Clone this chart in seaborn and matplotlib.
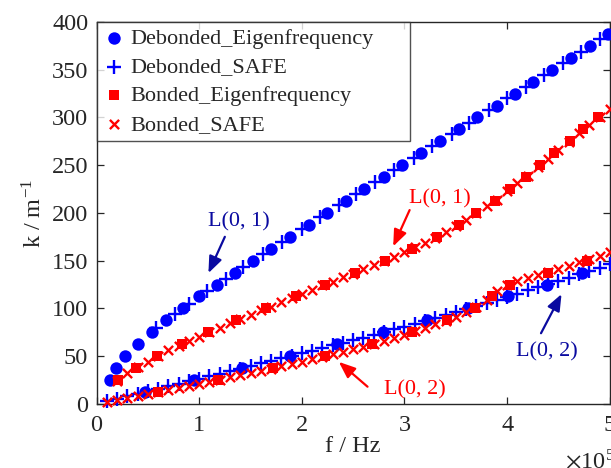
import numpy as np
import pandas as pd
import matplotlib
matplotlib.use("Agg")
import matplotlib.pyplot as plt
from matplotlib.ticker import FuncFormatter, MultipleLocator
import seaborn as sns

# ---- data: frequency in units of 1e5 Hz, wavenumber k in 1/m ----
# Debonded, eigenfrequency analysis, mode L(0,1)
deb_eig_L01_f = [0.13, 0.19, 0.28, 0.40, 0.54, 0.68, 0.84, 1.00, 1.17, 1.35,
                 1.52, 1.70, 1.88, 2.07, 2.25, 2.43, 2.61, 2.80, 2.98, 3.16,
                 3.35, 3.53, 3.71, 3.90, 4.08, 4.25, 4.44, 4.62, 4.81, 4.98]
deb_eig_L01_k = [25.0, 37.5, 50.0, 62.5, 75.0, 87.5, 100.0, 112.5, 125.0, 137.5,
                 150.0, 162.5, 175.0, 187.5, 200.0, 212.5, 225.0, 237.5, 250.0, 262.5,
                 275.0, 287.5, 300.0, 312.5, 325.0, 337.5, 350.0, 362.5, 375.0, 387.5]
# Debonded, eigenfrequency analysis, mode L(0,2)
deb_eig_L02_f = [0.47, 0.95, 1.42, 1.88, 2.345, 2.79, 3.22, 3.62, 4.01, 4.39, 4.73]
deb_eig_L02_k = [12.5, 25.0, 37.5, 50.0, 62.5, 75.0, 87.5, 100.0, 112.5, 125.0, 137.5]

# Debonded, SAFE, mode L(0,1)
deb_safe_L01_f = [0.58, 0.76, 0.90, 1.08, 1.26, 1.43, 1.62, 1.81, 2.00, 2.18,
                  2.36, 2.53, 2.71, 2.90, 3.09, 3.27, 3.46, 3.63, 3.82, 4.00,
                  4.18, 4.36, 4.54, 4.72, 4.90]
deb_safe_L01_k = [79.0, 94.0, 105.0, 118.5, 131.0, 143.0, 157.0, 170.0, 183.0, 195.5,
                  208.0, 219.5, 232.0, 244.5, 257.5, 270.0, 283.0, 294.5, 307.5, 320.0,
                  332.0, 344.5, 357.0, 369.0, 382.0]
# Debonded, SAFE, mode L(0,2)
deb_safe_L02_f = [0.1, 0.2, 0.3, 0.4, 0.5, 0.6, 0.7, 0.8, 0.9, 1.0,
                  1.1, 1.2, 1.3, 1.4, 1.5, 1.6, 1.7, 1.8, 1.9, 2.0,
                  2.1, 2.2, 2.3, 2.4, 2.5, 2.6, 2.7, 2.8, 2.9, 3.0,
                  3.1, 3.2, 3.3, 3.4, 3.5, 3.6, 3.7, 3.8, 3.9, 4.0,
                  4.1, 4.2, 4.3, 4.4, 4.5, 4.6, 4.7, 4.8, 4.9, 5.0]
deb_safe_L02_k = [2.7, 5.3, 8.0, 10.6, 13.3, 16.0, 18.6, 21.2, 23.8, 26.4,
                  29.0, 31.7, 34.3, 37.0, 39.6, 42.3, 45.0, 47.7, 50.4, 53.1,
                  55.8, 58.5, 61.3, 64.0, 66.7, 69.5, 72.3, 75.2, 78.0, 81.0,
                  84.0, 87.0, 90.0, 93.0, 96.2, 99.4, 102.6, 105.8, 109.0, 112.2,
                  115.5, 118.8, 122.0, 125.3, 128.7, 132.2, 135.8, 139.3, 142.8, 146.5]

# Bonded, eigenfrequency analysis, mode L(0,1)
bon_eig_L01_f = [0.21, 0.38, 0.59, 0.83, 1.09, 1.36, 1.65, 1.94, 2.23, 2.52,
                 2.81, 3.07, 3.32, 3.53, 3.70, 3.88, 4.03, 4.18, 4.32, 4.46,
                 4.61, 4.74, 4.89]
bon_eig_L01_k = [25.0, 37.5, 50.0, 62.5, 75.0, 87.5, 100.0, 112.5, 125.0, 137.5,
                 150.0, 162.5, 175.0, 187.5, 200.0, 212.5, 225.0, 237.5, 250.0, 262.5,
                 275.0, 287.5, 300.0]
# Bonded, eigenfrequency analysis, mode L(0,2)
bon_eig_L02_f = [0.60, 1.18, 1.72, 2.23, 2.68, 3.07, 3.41, 3.69, 3.85, 4.03, 4.40, 4.78]
bon_eig_L02_k = [12.5, 25.0, 37.5, 50.0, 62.5, 75.0, 87.5, 100.0, 112.5, 125.0, 137.5, 150.0]

# Bonded, SAFE, mode L(0,1)
bon_safe_L01_f = [0.2, 0.3, 0.4, 0.5, 0.6, 0.7, 0.8, 0.9, 1.0,
                  1.1, 1.2, 1.3, 1.4, 1.5, 1.6, 1.7, 1.8, 1.9, 2.0,
                  2.1, 2.2, 2.3, 2.4, 2.5, 2.6, 2.7, 2.8, 2.9, 3.0,
                  3.1, 3.2, 3.3, 3.4, 3.5, 3.6, 3.7, 3.8, 3.9, 4.0,
                  4.1, 4.2, 4.3, 4.4, 4.5, 4.6, 4.7, 4.8, 4.9, 5.0]
bon_safe_L01_k = [24.0, 32.0, 38.5, 44.0, 50.5, 56.0, 61.0, 66.0, 70.5,
                  75.5, 80.0, 85.0, 89.0, 93.5, 98.0, 102.0, 106.5, 111.0, 115.0,
                  119.5, 124.0, 128.0, 132.5, 136.5, 141.0, 145.0, 149.5, 154.0, 159.0,
                  164.0, 169.0, 174.0, 180.0, 186.0, 192.5, 200.0, 207.0, 214.0, 222.5,
                  231.0, 239.0, 248.0, 257.0, 266.0, 274.0, 283.5, 292.5, 300.5, 309.0]
# Bonded, SAFE, mode L(0,2)
bon_safe_L02_f = [0.1, 0.2, 0.3, 0.4, 0.5, 0.6, 0.7, 0.8, 0.9, 1.0,
                  1.1, 1.2, 1.3, 1.4, 1.5, 1.6, 1.7, 1.8, 1.9, 2.0,
                  2.1, 2.2, 2.3, 2.4, 2.5, 2.6, 2.7, 2.8, 2.9, 3.0,
                  3.1, 3.2, 3.3, 3.4, 3.5, 3.6, 3.7, 3.8, 3.9, 4.0,
                  4.1, 4.2, 4.3, 4.4, 4.5, 4.6, 4.7, 4.8, 4.9, 5.0]
bon_safe_L02_k = [2.1, 4.2, 6.3, 8.4, 10.5, 12.5, 14.6, 16.8, 19.0, 21.1,
                  23.3, 25.4, 27.7, 30.0, 32.2, 34.6, 37.0, 39.5, 41.9, 44.3,
                  46.8, 49.3, 51.9, 54.6, 57.3, 60.1, 63.0, 66.0, 69.2, 72.5,
                  76.0, 79.8, 83.6, 87.3, 91.4, 96.6, 101.5, 109.0, 118.0, 124.0,
                  128.5, 131.5, 135.0, 138.0, 141.4, 144.8, 148.5, 152.0, 155.2, 158.8]

series_names = ["Debonded_Eigenfrequency", "Debonded_SAFE",
                "Bonded_Eigenfrequency", "Bonded_SAFE"]

# ---- styling ----
sns.set_theme(style="ticks")
plt.rcParams["font.family"] = ["Liberation Serif", "DejaVu Serif"]
plt.rcParams["mathtext.fontset"] = "stix"
plt.rcParams["axes.edgecolor"] = "#262626"
plt.rcParams["xtick.color"] = "#262626"
plt.rcParams["ytick.color"] = "#262626"
plt.rcParams["text.color"] = "#262626"
plt.rcParams["axes.labelcolor"] = "#262626"

BLUE = "#0000ff"
RED = "#ff0000"
DARK_BLUE = "#0a0aa0"
AX_FS = 17.5
LEG_FS = 16


def frame(f1, k1, f2, k2, name):
    return pd.DataFrame({"f": np.concatenate([f1, f2]) * 1e5,
                         "k": np.concatenate([k1, k2]),
                         "series": name})


df = pd.concat([
    frame(deb_eig_L01_f, deb_eig_L01_k, deb_eig_L02_f, deb_eig_L02_k, series_names[0]),
    frame(deb_safe_L01_f, deb_safe_L01_k, deb_safe_L02_f, deb_safe_L02_k, series_names[1]),
    frame(bon_eig_L01_f, bon_eig_L01_k, bon_eig_L02_f, bon_eig_L02_k, series_names[2]),
    frame(bon_safe_L01_f, bon_safe_L01_k, bon_safe_L02_f, bon_safe_L02_k, series_names[3]),
], ignore_index=True)

styles = {
    series_names[0]: dict(marker="o", color=BLUE, s=80, edgecolor=BLUE, linewidth=0),
    series_names[1]: dict(marker="+", color=BLUE, s=105, linewidth=1.7),
    series_names[2]: dict(marker="s", color=RED, s=58, edgecolor=RED, linewidth=0),
    series_names[3]: dict(marker="x", color=RED, s=44, linewidth=1.7),
}

fig = plt.figure(figsize=(6.11, 4.68), dpi=100)
ax = fig.add_axes([0.158, 0.137, 0.84, 0.816])

for name in series_names:
    sub = df[df["series"] == name]
    sns.scatterplot(data=sub, x="f", y="k", ax=ax, label=name,
                    clip_on=False, zorder=3, **styles[name])

ax.set_xlim(0, 5e5)
ax.set_ylim(0, 400)
ax.xaxis.set_major_locator(MultipleLocator(1e5))
ax.yaxis.set_major_locator(MultipleLocator(50))
ax.xaxis.set_major_formatter(FuncFormatter(lambda v, p: f"{v / 1e5:g}"))
ax.tick_params(direction="in", top=True, right=True, length=5, width=0.9,
               labelsize=AX_FS)
ax.tick_params(axis="x", pad=8)
ax.tick_params(axis="y", pad=6)
for sp in ax.spines.values():
    sp.set_linewidth(1.0)
    sp.set_visible(True)

ax.set_xlabel("f / Hz", fontsize=AX_FS, labelpad=0)
ax.set_ylabel("k / m$^{\\mathregular{-1}}$", fontsize=AX_FS, labelpad=4)
fig.text(0.925, -0.012, "$\\times$10$^{\\mathregular{5}}$", fontsize=AX_FS,
         ha="left", va="bottom")

leg = ax.legend(loc="upper left", bbox_to_anchor=(0.0, 0.0, 0.611, 1.0),
                mode="expand", fontsize=LEG_FS, frameon=True, fancybox=False,
                borderaxespad=0, borderpad=0.28, labelspacing=0.37,
                handlelength=1.0, handletextpad=0.25, scatterpoints=1)
leg.get_frame().set_edgecolor("#262626")
leg.get_frame().set_linewidth(1.0)
leg.set_zorder(5)

# mode annotations: arrows and their labels
arrow_kw = dict(arrowstyle="-|>,head_length=0.5,head_width=0.2",
                lw=1.6, mutation_scale=20, shrinkA=0, shrinkB=0)
labels = [
    # text, text position, arrow tail, arrow tip, colour
    ("L(0, 1)", (1.39e5, 191), (1.25e5, 175), (1.09e5, 137), DARK_BLUE),
    ("L(0, 1)", (3.34e5, 215), (3.05e5, 203), (2.89e5, 165), RED),
    ("L(0, 2)", (3.10e5, 15), (2.64e5, 18), (2.36e5, 44), RED),
    ("L(0, 2)", (4.39e5, 55), (4.33e5, 74), (4.53e5, 115), DARK_BLUE),
]
for txt, tpos, tail, tip, col in labels:
    ax.annotate("", xy=tip, xytext=tail,
                arrowprops=dict(arrow_kw, color=col), zorder=4)
    ax.text(tpos[0], tpos[1], txt, color=col, fontsize=LEG_FS,
            ha="center", va="center", zorder=4)

fig.savefig("out.png", dpi=100)
